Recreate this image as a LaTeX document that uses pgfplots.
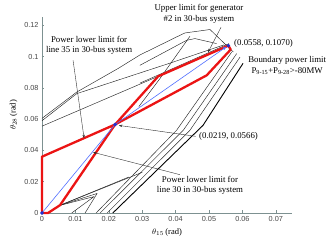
\documentclass[border=0pt]{standalone}
\usepackage{fontspec}
\setmainfont{Liberation Serif}
\newfontfamily\ticksf{Liberation Sans}
\usepackage{pgfplots}
\pgfplotsset{compat=1.18}
\usetikzlibrary{arrows.meta}
\definecolor{axgray}{RGB}{125,145,145}
\definecolor{redl}{RGB}{235,20,20}
\definecolor{bluel}{RGB}{80,110,255}
\definecolor{blued}{RGB}{30,50,210}
\definecolor{ticktxt}{RGB}{70,70,70}
\begin{document}
\begin{tikzpicture}
\begin{axis}[
  at={(0,0)}, anchor=south west,
  scale only axis, width=250pt, height=196pt,
  xmin=0, xmax=0.07485, ymin=0, ymax=0.1253,
  axis x line=bottom, axis y line=left,
  axis line style={-, axgray, line width=0.6pt},
  tick align=inside, tick style={axgray, line width=0.5pt}, major tick length=2.5pt,
  xtick={0,0.01,0.02,0.03,0.04,0.05,0.06,0.07},
  xticklabels={0,0.01,0.02,0.03,0.04,0.05,0.06,0.07},
  ytick={0,0.02,0.04,0.06,0.08,0.1,0.12},
  yticklabels={0,0.02,0.04,0.06,0.08,0.1,0.12},
  scaled ticks=false,
  ticklabel style={font=\ticksf\fontsize{7.3}{8}\selectfont, text=ticktxt},
  xlabel={$\theta_{15}$\,(rad)}, ylabel={$\theta_{28}$\,(rad)},
  label style={font=\fontsize{8.5}{10}\selectfont},
  clip=false,
  every axis plot/.append style={line join=round},
]
% black boundary lines
\pgfplotsset{blk/.style={black!85, line width=0.45pt, mark=none}}
\addplot[blk] coordinates {(0,0.0605)(0.0104,0.0773)(0.0228,0.0924)(0.0293,0.1010)(0.0413,0.1136)(0.0428,0.1151)(0.0503,0.1173)(0.0573,0.1029)};
\addplot[blk] coordinates {(0,0.0590)(0.0104,0.0763)(0.0383,0.0958)(0.0545,0.1075)};
\addplot[blk] coordinates {(0,0.0555)(0.0348,0.0874)};
\addplot[blk] coordinates {(0.0293,0.0944)(0.0433,0.1104)(0.0458,0.1115)(0.0523,0.1083)};
\addplot[blk] coordinates {(0.0443,0.1130)(0.0353,0.0859)(0.0290,0.0680)};
\addplot[blk] coordinates {(0.0293,0.0830)(0.0560,0.1083)};
\addplot[blk] coordinates {(0.0162,0)(0.0403,0.0529)(0.0568,0.1029)};
\addplot[blk] coordinates {(0.0174,0)(0.0423,0.0529)(0.0583,0.1019)};
\addplot[blk] coordinates {(0.0195,0)(0.0443,0.0529)(0.0593,0.0997)};
\addplot[black, line width=0.9pt] coordinates {(0.0212,0)(0.0482,0.0560)(0.0602,0.0957)};
\addplot[blk] coordinates {(0.0054,0.0049)(0.0156,0.0105)(0.0089,0)};
\addplot[blk] coordinates {(0.0054,0.0049)(0.0165,0.0125)(0.0129,0)};
\addplot[blk] coordinates {(0.0054,0.0049)(0.0260,0.0230)};
\addplot[blk] coordinates {(0.0054,0.0049)(0.0300,0.0260)};
% red feasible region
\addplot[redl, line width=2.3pt] coordinates {(0,0)(0,0.036)(0.0219,0.0566)(0.0348,0.0874)(0.0558,0.1070)(0.0565,0.1045)(0.0493,0.0880)(0.0219,0.0566)(0.0054,0.0050)(0.0018,0)(0,0)};
% blue path
\addplot[bluel, line width=0.6pt] coordinates {(0,0)(0.0219,0.0566)};
\addplot[bluel, line width=0.6pt, -{Latex[length=4pt,width=3pt]}] coordinates {(0.0219,0.0566)(0.0553,0.1064)};
\addplot[only marks, mark=*, mark size=1.7pt, blued] coordinates {(0,0)(0.0219,0.0566)(0.0558,0.1070)};
% annotations
\node[align=center, font=\fontsize{8.8}{10.5}\selectfont] at (axis cs:0.0470,0.1272) {Upper limit for generator\\\#2 in 30-bus system};
\draw[black!80, line width=0.4pt, -{Stealth[length=3.5pt,width=2.5pt]}] (axis cs:0.0536,0.1187) -- (axis cs:0.0497,0.1027);
\node[anchor=west, font=\fontsize{8.8}{10.5}\selectfont, inner sep=0pt] at (axis cs:0.0575,0.1085) {(0.0558, 0.1070)};
\node[align=center, font=\fontsize{8.8}{10.5}\selectfont] at (axis cs:0.0734,0.0944) {Boundary power limit\\P\textsubscript{9-15}+P\textsubscript{9-28}>-80MW};
\node[align=center, font=\fontsize{8.8}{10.5}\selectfont] at (axis cs:0.0141,0.1072) {Power lower limit for\\line 35 in 30-bus system};
\draw[black!80, line width=0.4pt, -{Stealth[length=3.5pt,width=2.5pt]}] (axis cs:0.0093,0.0976) -- (axis cs:0.0126,0.0478);
\node[anchor=west, font=\fontsize{8.8}{10.5}\selectfont, inner sep=0pt] at (axis cs:0.0470,0.0490) {(0.0219, 0.0566)};
\draw[black!80, line width=0.4pt, -{Stealth[length=3.5pt,width=2.5pt]}] (axis cs:0.0460,0.0490) -- (axis cs:0.0230,0.0560);
\node[align=center, font=\fontsize{8.8}{10.5}\selectfont] at (axis cs:0.0473,0.0177) {Power lower limit for\\line 30 in 30-bus system};
\draw[black!80, line width=0.4pt, -{Stealth[length=3.5pt,width=2.5pt]}] (axis cs:0.0413,0.0245) -- (axis cs:0.0153,0.0388);
\end{axis}
\pgfresetboundingbox
\path[use as bounding box] (-42pt,-28pt) rectangle (291pt,213pt);
\end{tikzpicture}
\end{document}
